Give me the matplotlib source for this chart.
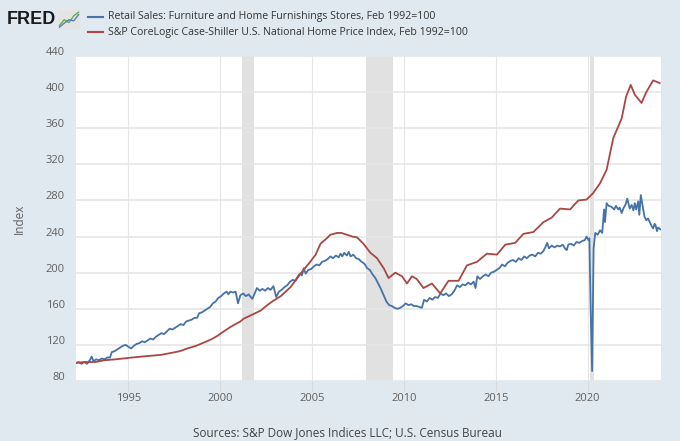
import numpy as np
import matplotlib.pyplot as plt
import matplotlib.transforms as mtransforms

plt.rcParams['font.family'] = ['Open Sans', 'DejaVu Sans']

# Retail Sales: Furniture and Home Furnishings Stores (Feb 1992=100)
retail_t = [1992.13, 1992.3, 1992.45, 1992.6, 1992.75, 1992.9,
            1993.0, 1993.1, 1993.25, 1993.4, 1993.55, 1993.7, 1993.85,
            1994.0, 1994.1, 1994.25, 1994.4, 1994.55, 1994.7, 1994.85,
            1995.0, 1995.15, 1995.3, 1995.45, 1995.6, 1995.75, 1995.9,
            1996.05, 1996.2, 1996.35, 1996.5, 1996.65, 1996.8, 1996.95,
            1997.1, 1997.25, 1997.4, 1997.55, 1997.7, 1997.85,
            1998.0, 1998.15, 1998.3, 1998.45, 1998.6, 1998.75, 1998.85,
            1999.0, 1999.15, 1999.3, 1999.45, 1999.6, 1999.75, 1999.9,
            2000.05, 2000.2, 2000.35, 2000.45, 2000.55, 2000.7, 2000.84, 2000.97,
            2001.1, 2001.25, 2001.4, 2001.55, 2001.66, 2001.75, 2001.9,
            2002.0, 2002.15, 2002.3, 2002.45, 2002.6, 2002.74, 2002.9,
            2003.05, 2003.2, 2003.35, 2003.5, 2003.65, 2003.8, 2003.95,
            2004.1, 2004.2, 2004.35, 2004.45, 2004.55, 2004.65, 2004.8, 2004.95,
            2005.1, 2005.25, 2005.4, 2005.55, 2005.7, 2005.85,
            2006.0, 2006.15, 2006.3, 2006.45, 2006.55, 2006.65, 2006.75, 2006.9,
            2007.0, 2007.1, 2007.25, 2007.4, 2007.55, 2007.7, 2007.85,
            2008.0, 2008.15, 2008.3, 2008.45, 2008.6, 2008.75, 2008.9,
            2009.05, 2009.2, 2009.35, 2009.5, 2009.65, 2009.8, 2009.95,
            2010.1, 2010.25, 2010.4, 2010.55, 2010.7, 2010.85, 2010.98,
            2011.1, 2011.25, 2011.4, 2011.55, 2011.7, 2011.85,
            2012.0, 2012.15, 2012.3, 2012.45, 2012.6, 2012.75, 2012.9,
            2013.05, 2013.2, 2013.35, 2013.5, 2013.65, 2013.8, 2013.9,
            2014.0, 2014.15, 2014.3, 2014.45, 2014.6, 2014.75, 2014.9,
            2015.05, 2015.2, 2015.35, 2015.5, 2015.65, 2015.8, 2015.95,
            2016.1, 2016.25, 2016.4, 2016.55, 2016.7, 2016.85,
            2017.0, 2017.15, 2017.3, 2017.45, 2017.6, 2017.7, 2017.8, 2017.9,
            2018.05, 2018.2, 2018.35, 2018.5, 2018.65, 2018.8, 2018.87, 2018.95,
            2019.1, 2019.25, 2019.4, 2019.55, 2019.7, 2019.85, 2019.95,
            2020.05, 2020.1, 2020.17, 2020.25, 2020.33, 2020.42, 2020.55, 2020.68, 2020.8, 2020.9, 2020.95,
            2021.04, 2021.15, 2021.3, 2021.45, 2021.55, 2021.67, 2021.75, 2021.86, 2021.95,
            2022.08, 2022.16, 2022.3, 2022.4, 2022.5, 2022.57, 2022.65, 2022.76, 2022.82, 2022.9,
            2023.03, 2023.1, 2023.2, 2023.3, 2023.39, 2023.48, 2023.57, 2023.65, 2023.7, 2023.78,
            2023.84, 2023.97]
retail_v = [100, 101, 99, 101, 99, 103,
            107, 102, 104, 103, 105, 104, 106,
            106, 112, 113, 115, 117, 119, 120,
            118, 116, 119, 121, 122, 124, 123,
            125, 127, 126, 129, 131, 133, 132,
            135, 138, 137, 139, 141, 143,
            142, 146, 147, 148, 150, 150, 155,
            156, 158, 160, 162, 166, 168, 172,
            174, 177, 179, 176, 179, 178, 179, 166,
            175, 177, 174, 176, 173, 171, 178,
            183, 180, 182, 180, 183, 181, 185,
            173, 179, 181, 184, 186, 190, 192,
            191, 195, 199, 197, 205, 199, 203, 204,
            207, 209, 208, 212, 213, 215,
            218, 216, 219, 217, 221, 218, 222, 219,
            223, 218, 220, 216, 215, 212, 210,
            205, 203, 198, 194, 188, 182, 175,
            168, 164, 163, 161, 160, 161, 163,
            166, 164, 165, 163, 163, 162, 161,
            170, 168, 172, 170, 173, 172,
            177, 175, 177, 174, 176, 180, 186,
            184, 187, 186, 189, 187, 190, 183,
            196, 193, 196, 198, 196, 200, 201,
            203, 205, 209, 207, 211, 213, 214,
            212, 216, 214, 218, 216, 219,
            220, 218, 222, 221, 224, 228, 233, 227,
            230, 228, 230, 229, 231, 226, 225, 231,
            232, 230, 234, 233, 235, 236, 240,
            236, 238, 160, 91, 227, 244, 242, 247, 244, 270, 256,
            277, 274, 273, 270, 274, 270, 272, 266, 271,
            276, 282, 271, 275, 269, 277, 270, 279, 264, 286,
            270, 262, 258, 260, 256, 252, 249, 254, 253, 246,
            250, 248]

# S&P CoreLogic Case-Shiller U.S. National Home Price Index (Feb 1992=100)
hpi_t = [1992.13, 1992.6, 1993.2, 1993.7, 1994.3, 1995.2, 1995.7, 1996.25, 1996.8, 1997.3,
         1997.8, 1998.2, 1998.7, 1999.1, 1999.5, 1999.85, 2000.2, 2000.57, 2001.1, 2001.28,
         2001.8, 2002.2, 2002.56, 2002.9, 2003.3, 2003.83, 2004.38, 2004.9, 2005.2, 2005.46,
         2005.8, 2006.0, 2006.37, 2006.6, 2006.9, 2007.2, 2007.46, 2007.8, 2008.18, 2008.54,
         2008.9, 2009.17, 2009.53, 2009.9, 2010.17, 2010.44, 2010.7, 2011.07, 2011.53, 2011.98,
         2012.43, 2012.98, 2013.43, 2013.98, 2014.52, 2015.07, 2015.52, 2016.06, 2016.51, 2017.05,
         2017.6, 2018.05, 2018.5, 2019.05, 2019.5, 2019.95, 2020.3, 2020.68, 2021.04, 2021.4,
         2021.86, 2022.1, 2022.35, 2022.58, 2022.94, 2023.2, 2023.57, 2023.93]
hpi_v = [100, 101, 101, 103, 104, 106, 107, 108, 109, 111,
         113, 116, 119, 122.5, 126, 130, 135, 140, 146, 149,
         154, 158, 164, 169, 174, 184, 199, 212, 220, 232,
         238, 242, 244, 244, 242, 240, 239, 232, 222, 216,
         205, 194, 200, 196, 188, 196, 193, 183, 188, 177,
         191, 191, 208, 212, 221, 220, 231, 233, 243, 245,
         256, 261, 271, 270, 280, 281, 288, 299, 314, 349,
         371, 395, 408, 397, 388, 400, 413, 410]

recessions = [(2001.17, 2001.83), (2007.92, 2009.42), (2020.13, 2020.33)]

yticks = [80, 120, 160, 200, 240, 280, 320, 360, 400, 440]
xticks = [1995, 2000, 2005, 2010, 2015, 2020]

legend_labels = ['Retail Sales: Furniture and Home Furnishings Stores, Feb 1992=100',
                 'S&P CoreLogic Case-Shiller U.S. National Home Price Index, Feb 1992=100']

blue = '#4572a7'
red = '#aa4643'
bg = '#e1e9f0'

fig = plt.figure(figsize=(6.8, 4.41), dpi=100, facecolor=bg)
ax = fig.add_axes([76 / 680, 60 / 441, 585 / 680, 325 / 441])
ax.set_facecolor('white')

for a, b in recessions:
    ax.axvspan(a, b, color='#e1e1e1', lw=0, zorder=0)

ax.plot(retail_t, retail_v, color=blue, lw=1.3, zorder=3)
ax.plot(hpi_t, hpi_v, color=red, lw=1.3, zorder=3)

ax.set_xlim(1992.15, 2024.0)
ax.set_ylim(80, 440)
ax.set_yticks(yticks)
ax.set_xticks(xticks)
ax.grid(axis='y', color='#e6e6e6', lw=1.2, zorder=1)
ax.grid(axis='x', color='#e6e6e6', lw=0.8, zorder=1)
ax.set_axisbelow(True)
for s in ax.spines.values():
    s.set_visible(False)

ax.tick_params(axis='y', length=0, pad=8, labelsize=8, labelcolor='#606060')
ax.tick_params(axis='x', length=7, width=0.8, color='#d8d8d8', pad=1.5, labelsize=8, labelcolor='#606060')
shift = mtransforms.ScaledTranslation(0, 5 / 100, fig.dpi_scale_trans)
for lab in ax.get_yticklabels():
    lab.set_transform(lab.get_transform() + shift)

ax.set_ylabel('Index', fontsize=8.5, color='#606060', labelpad=14)

# header: logo and legend
fig.text(7 / 680, 1 - 20 / 441, 'FRED', fontsize=13, fontweight='bold', color='#1a1a1a',
         va='center', ha='left', family=['Liberation Sans', 'DejaVu Sans'])
icon = fig.add_axes([58 / 680, 1 - 30 / 441, 22 / 680, 20 / 441])
icon.set_facecolor('#e4e4e4')
icon.plot([0, 1, 2, 3, 4], [0.5, 1.5, 1.0, 2.2, 2.8], color='#6cae3e', lw=1)
icon.plot([0, 1, 2, 3, 4], [0.2, 0.9, 1.5, 1.3, 2.4], color='#4f81bd', lw=1)
icon.set_xlim(-0.3, 4.3)
icon.set_ylim(-0.3, 3.2)
icon.set_xticks([])
icon.set_yticks([])
for s in icon.spines.values():
    s.set_visible(False)

for i, (lab, col) in enumerate(zip(legend_labels, [blue, red])):
    yy = 1 - (17 + 15 * i) / 441
    fig.add_artist(plt.Line2D([88 / 680, 103 / 680], [yy, yy], color=col, lw=1.5,
                              transform=fig.transFigure))
    fig.text(108 / 680, yy, lab, fontsize=7.6, color='#333333', va='center', ha='left')

fig.text(347 / 680, 1 - 433 / 441, 'Sources: S&P Dow Jones Indices LLC; U.S. Census Bureau',
         fontsize=8.5, color='#444444', ha='center', va='center')

fig.savefig('out.png', dpi=100, facecolor=bg)
